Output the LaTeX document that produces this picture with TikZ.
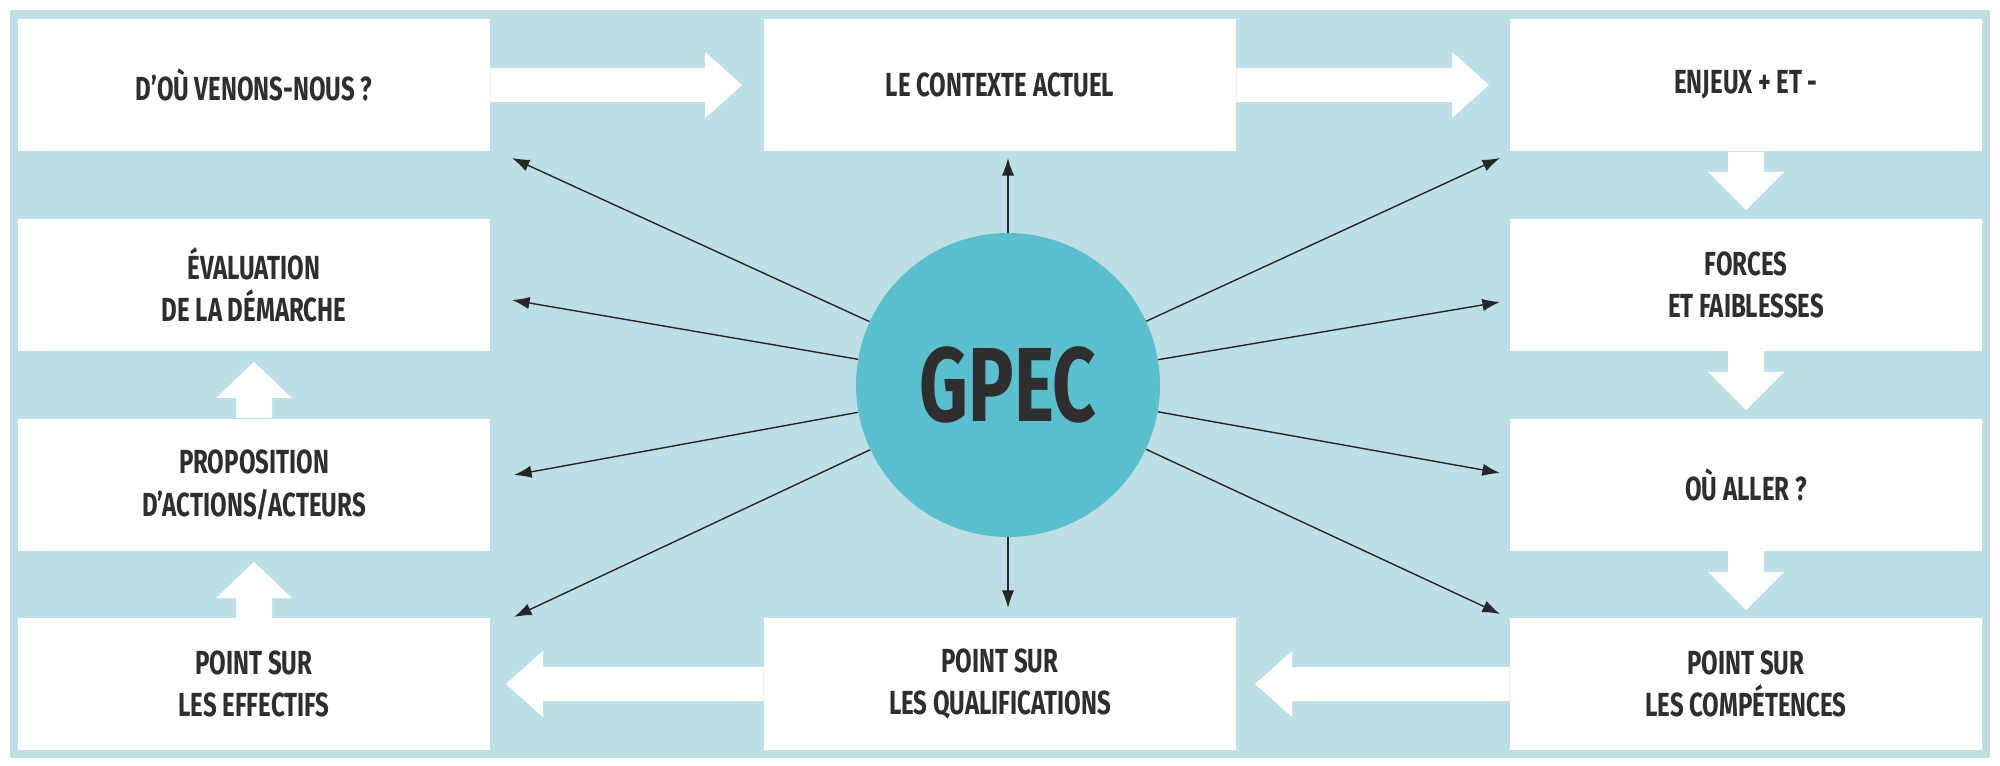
\documentclass[tikz,border=0pt]{standalone}
\usepackage{fontspec}
\setmainfont{Fira Sans}[FakeStretch=0.72]
\usetikzlibrary{arrows.meta}
\definecolor{bgc}{HTML}{BDE0E6}
\definecolor{circc}{HTML}{5BBFCD}
\definecolor{txt}{HTML}{2E2E2E}
\begin{document}
\begin{tikzpicture}[x=0.02cm,y=-0.02cm,
  box/.style={fill=white,minimum width=9.44cm,minimum height=2.66cm,inner sep=0pt,align=center,font=\fontsize{19}{24}\selectfont\bfseries,text=txt},
  thin/.style={-{Latex[length=10pt,width=7pt]},line width=0.8pt,black!85},
  blk/.style={fill=white,draw=none}]
\useasboundingbox (0,0) rectangle (2000,766);
\fill[bgc] (10,10) rectangle (1990,758);
% boxes
\node[box] (a) at (254,85) {D'OÙ VENONS-NOUS ?};
\node[box] (b) at (1000,85) {LE CONTEXTE ACTUEL};
\node[box] (c) at (1746,85) {ENJEUX + ET -};
\node[box] (d) at (1746,285) {FORCES\\ET FAIBLESSES};
\node[box] (e) at (1746,485) {OÙ ALLER ?};
\node[box] (f) at (1746,684) {POINT SUR\\LES COMPÉTENCES};
\node[box] (g) at (1000,684) {POINT SUR\\LES QUALIFICATIONS};
\node[box] (h) at (254,684) {POINT SUR\\LES EFFECTIFS};
\node[box] (i) at (254,485) {PROPOSITION\\D'ACTIONS/ACTEURS};
\node[box] (j) at (254,285) {ÉVALUATION\\DE LA DÉMARCHE};
% block arrows
\fill[blk] (a.east|-0,68) -- (705,68) -- (705,52) -- (742,85) -- (705,118) -- (705,102) -- (a.east|-0,102) -- cycle;
\fill[blk] (b.east|-0,68) -- (1452,68) -- (1452,52) -- (1489,85) -- (1452,118) -- (1452,102) -- (b.east|-0,102) -- cycle;
\fill[blk] (1728,152) -- (1728,172) -- (1708,172) -- (1746,210) -- (1784,172) -- (1764,172) -- (1764,152) -- cycle;
\fill[blk] (1728,351) -- (1728,372) -- (1708,372) -- (1746,410) -- (1784,372) -- (1764,372) -- (1764,351) -- cycle;
\fill[blk] (1728,551) -- (1728,572) -- (1708,572) -- (1746,610) -- (1784,572) -- (1764,572) -- (1764,551) -- cycle;
\fill[blk] (f.west|-0,667) -- (1292,667) -- (1292,651) -- (1255,684) -- (1292,717) -- (1292,701) -- (f.west|-0,701) -- cycle;
\fill[blk] (g.west|-0,667) -- (543,667) -- (543,651) -- (506,684) -- (543,717) -- (543,701) -- (g.west|-0,701) -- cycle;
\fill[blk] (236,618) -- (236,598) -- (216,598) -- (254,562) -- (292,598) -- (272,598) -- (272,618) -- cycle;
\fill[blk] (236,418) -- (236,398) -- (216,398) -- (254,362) -- (292,398) -- (272,398) -- (272,418) -- cycle;
% circle
\node[circle,fill=circc,minimum size=6.08cm,inner sep=0pt,text=txt,font=\fontsize{60}{60}\selectfont\bfseries] (gp) at (1008,385) {GPEC};
\coordinate (p1) at (512,158); \coordinate (p2) at (512,300);
\coordinate (p3) at (514,475); \coordinate (p4) at (514,617);
\coordinate (p5) at (1008,158); \coordinate (p6) at (1008,608);
\coordinate (p7) at (1500,158); \coordinate (p8) at (1500,302);
\coordinate (p9) at (1500,473); \coordinate (p10) at (1500,614);
\foreach \p in {p1,p2,p3,p4,p5,p6,p7,p8,p9,p10} \draw[thin] (gp) -- (\p);
\end{tikzpicture}
\end{document}
